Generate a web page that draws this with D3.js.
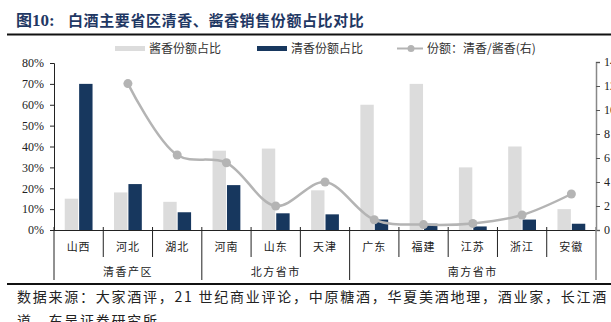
<!DOCTYPE html>
<html>
<head>
<meta charset="utf-8">
<script src="https://cdn.jsdelivr.net/npm/d3@7/dist/d3.min.js"></script>
<style>
  html, body { margin: 0; padding: 0; background: #fff; }
  svg { display: block; }
  .cjk { font-family: "Noto Sans CJK SC", sans-serif; }
  .num { font-family: "Liberation Serif", "Times New Roman", serif; }
</style>
</head>
<body>
<svg id="chart" width="611" height="322"></svg>
<script>
// Provinces, grouped by region
const categories = ["山西", "河北", "湖北", "河南", "山东", "天津", "广东", "福建", "江苏", "浙江", "安徽"];
const groups = [
  { name: "清香产区", from: 0, to: 3 },
  { name: "北方省市", from: 3, to: 6 },
  { name: "南方省市", from: 6, to: 11 }
];
// 酱香 / 清香 share of baijiu sales per province
const jiangShare = [0.15, 0.18, 0.135, 0.38, 0.39, 0.19, 0.60, 0.70, 0.30, 0.40, 0.10];
const qingShare  = [0.70, 0.22, 0.085, 0.215, 0.08, 0.075, 0.05, 0.03, 0.017, 0.05, 0.03];
// Ratio 清香/酱香 (right axis); no point for 山西
const ratio = [null, 12.2, 6.25, 5.6, 2.0, 4.0, 0.85, 0.45, 0.55, 1.25, 3.0];
const leftTicks = [0, 0.1, 0.2, 0.3, 0.4, 0.5, 0.6, 0.7, 0.8];
const rightTicks = [0, 2, 4, 6, 8, 10, 12, 14];

const colJiang = "#dcdcdc";
const colQing = "#17375e";
const colLine = "#b4b4b4";

const svg = d3.select("#chart");

const x0 = 54, x1 = 596, yBase = 230;
const x = d3.scaleBand().domain(categories).range([x0, x1]).padding(0);
const xSub = d3.scaleBand().domain(["j", "q"]).range([0, x.bandwidth()])
  .paddingInner(0.07).paddingOuter(0.745);
const yL = d3.scaleLinear().domain([0, 0.8]).range([yBase, 63]);
const yR = d3.scaleLinear().domain([0, 14]).range([yBase, 62]);

// Title and rule
const title = svg.append("text").attr("x", 16).attr("y", 25.5).attr("font-weight", "bold").attr("fill", "#1f3864");
title.append("tspan").attr("class", "cjk").attr("font-size", 16).text("图");
title.append("tspan").attr("class", "num").attr("font-size", 17).text("10:");
title.append("tspan").attr("class", "cjk").attr("x", 68).attr("font-size", 15).attr("letter-spacing", 0.6)
  .text("白酒主要省区清香、酱香销售份额占比对比");
svg.append("line").attr("x1", 7).attr("x2", 611).attr("y1", 34.5).attr("y2", 34.5)
  .attr("stroke", "#111").attr("stroke-width", 2);

// Legend
const lg = svg.append("g");
lg.append("rect").attr("x", 115).attr("y", 46).attr("width", 30).attr("height", 5).attr("fill", colJiang);
lg.append("text").attr("class", "cjk").attr("x", 149).attr("y", 53).attr("font-size", 12).attr("fill", "#333").text("酱香份额占比");
lg.append("rect").attr("x", 257).attr("y", 46).attr("width", 30).attr("height", 5).attr("fill", colQing);
lg.append("text").attr("class", "cjk").attr("x", 291).attr("y", 53).attr("font-size", 12).attr("fill", "#333").text("清香份额占比");
lg.append("line").attr("x1", 397).attr("x2", 423).attr("y1", 48.5).attr("y2", 48.5).attr("stroke", colLine).attr("stroke-width", 2);
lg.append("circle").attr("cx", 411).attr("cy", 48.5).attr("r", 3.5).attr("fill", colLine);
lg.append("text").attr("class", "cjk").attr("x", 427).attr("y", 53).attr("font-size", 12).attr("fill", "#333").text("份额：清香/酱香(右)");

// Bars
const bars = svg.append("g");
bars.selectAll("rect.j").data(categories).join("rect").attr("class", "j")
  .attr("x", d => x(d) + xSub("j")).attr("width", xSub.bandwidth())
  .attr("y", (d, i) => yL(jiangShare[i])).attr("height", (d, i) => yBase - yL(jiangShare[i]))
  .attr("fill", colJiang);
bars.selectAll("rect.q").data(categories).join("rect").attr("class", "q")
  .attr("x", d => x(d) + xSub("q")).attr("width", xSub.bandwidth())
  .attr("y", (d, i) => yL(qingShare[i])).attr("height", (d, i) => yBase - yL(qingShare[i]))
  .attr("fill", colQing);

// Left axis
const axL = svg.append("g").attr("transform", `translate(${x0},0)`)
  .call(d3.axisLeft(yL).tickValues(leftTicks).tickFormat(d3.format(".0%")).tickSize(4).tickPadding(6));
axL.select(".domain").attr("stroke", "#222");
axL.selectAll(".tick line").attr("stroke", "#222");
axL.selectAll("text").attr("class", "num").attr("font-size", 12).attr("fill", "#222");

// Right axis (labels run to the page edge)
const axR = svg.append("g").attr("transform", `translate(${x1},0)`)
  .call(d3.axisRight(yR).tickValues(rightTicks).tickSize(4).tickPadding(4));
axR.select(".domain").attr("stroke", "#888").attr("stroke-width", 1.5);
axR.selectAll(".tick line").attr("stroke", "#555");
axR.selectAll("text").attr("class", "num").attr("font-size", 12).attr("fill", "#222");

// Ratio line
const pts = categories.map((c, i) => ({ c, v: ratio[i] })).filter(p => p.v !== null);
const line = d3.line().x(p => x(p.c) + x.bandwidth() / 2).y(p => yR(p.v)).curve(d3.curveCatmullRom.alpha(0.5));
svg.append("path").datum(pts).attr("d", line).attr("fill", "none").attr("stroke", colLine).attr("stroke-width", 2.5);
svg.selectAll("circle.pt").data(pts).join("circle").attr("class", "pt")
  .attr("cx", p => x(p.c) + x.bandwidth() / 2).attr("cy", p => yR(p.v)).attr("r", 4.5).attr("fill", colLine);

// Category axis with two-level labels
const ax = svg.append("g");
ax.append("line").attr("x1", x0).attr("x2", x1).attr("y1", yBase + 0.5).attr("y2", yBase + 0.5).attr("stroke", "#222");
const inner = d3.range(1, categories.length).filter(i => !groups.some(g => g.from === i));
ax.selectAll("line.sep").data(inner).join("line").attr("class", "sep")
  .attr("x1", i => x(categories[i])).attr("x2", i => x(categories[i]))
  .attr("y1", yBase - 3).attr("y2", 257).attr("stroke", "#222");
const gb = [0, ...groups.map(g => g.to)];
ax.selectAll("line.gsep").data(gb).join("line").attr("class", "gsep")
  .attr("x1", i => i === categories.length ? x1 : x(categories[i]))
  .attr("x2", i => i === categories.length ? x1 : x(categories[i]))
  .attr("y1", yBase - 3).attr("y2", 280).attr("stroke", (d, k) => k === gb.length - 1 ? "#888" : "#222")
  .attr("stroke-width", (d, k) => k === gb.length - 1 ? 1.5 : 1);
ax.selectAll("text.cat").data(categories).join("text").attr("class", "cjk")
  .attr("x", d => x(d) + x.bandwidth() / 2).attr("y", 251).attr("text-anchor", "middle")
  .attr("font-size", 11).attr("letter-spacing", 1).attr("fill", "#222").text(d => d);
ax.selectAll("text.grp").data(groups).join("text").attr("class", "cjk")
  .attr("x", g => (x(categories[g.from]) + (g.to === categories.length ? x1 : x(categories[g.to]))) / 2)
  .attr("y", 276).attr("text-anchor", "middle")
  .attr("font-size", 11).attr("letter-spacing", 1.5).attr("fill", "#222").text(g => g.name);

// Source note
svg.append("line").attr("x1", 7).attr("x2", 611).attr("y1", 284).attr("y2", 284)
  .attr("stroke", "#111").attr("stroke-width", 2);
svg.append("text").attr("class", "cjk").attr("x", 17).attr("y", 302).attr("font-size", 14)
  .attr("letter-spacing", 1.75).attr("fill", "#222")
  .text("数据来源：大家酒评，21 世纪商业评论，中原糖酒，华夏美酒地理，酒业家，长江酒");
svg.append("text").attr("class", "cjk").attr("x", 17).attr("y", 326).attr("font-size", 14)
  .attr("letter-spacing", 1.75).attr("fill", "#222")
  .text("道，东吴证券研究所");
</script>
</body>
</html>
